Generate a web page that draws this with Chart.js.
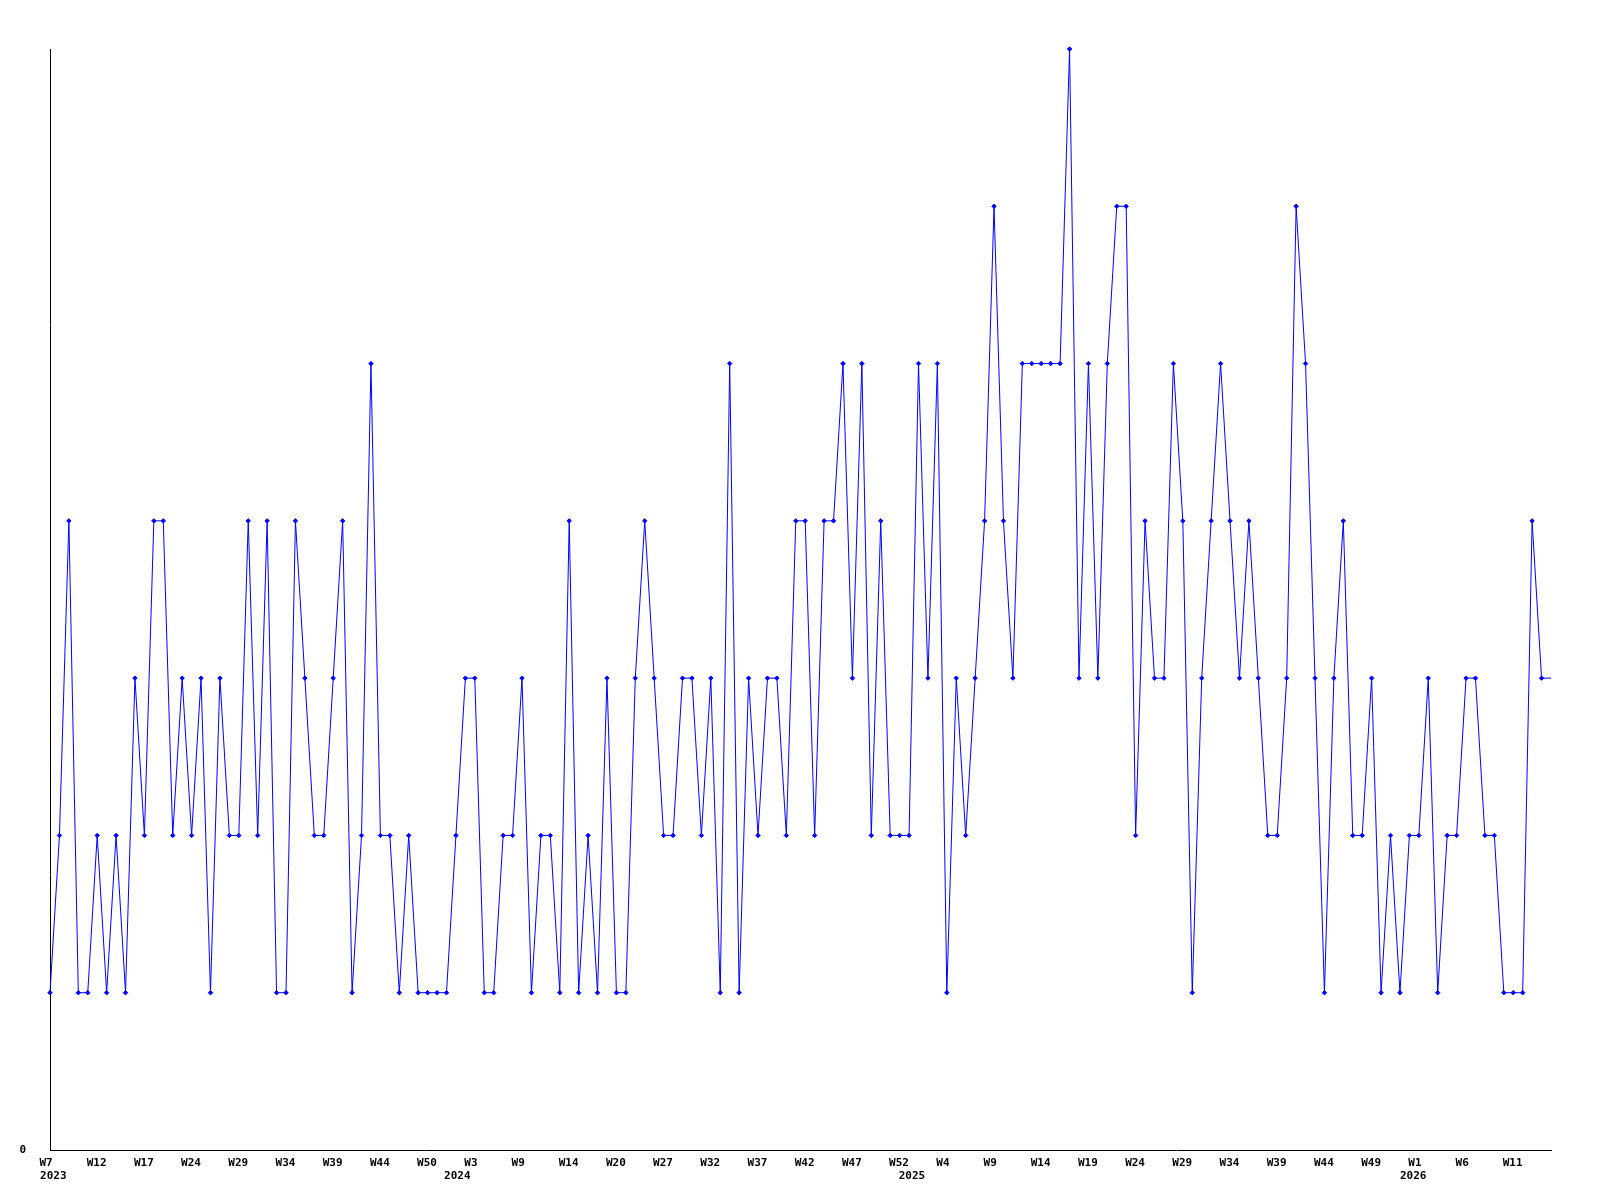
<!DOCTYPE html>
<html>
<head>
<meta charset="utf-8">
<script src="https://cdn.jsdelivr.net/npm/chart.js@4/dist/chart.umd.min.js"></script>
<style>
  html, body { margin: 0; padding: 0; background: #fff; }
  canvas { display: block; }
</style>
</head>
<body>
<canvas id="weekly" width="1600" height="1200"></canvas>
<script>
// weekly counts, one per week starting 2023 W7
const counts = [
  1,2,4,1,1,2,1,2,1,3,
  2,4,4,2,3,2,3,1,3,2,
  2,4,2,4,1,1,4,3,2,2,
  3,4,1,2,5,2,2,1,2,1,
  1,1,1,2,3,3,1,1,2,2,
  3,1,2,2,1,4,1,2,1,3,
  1,1,3,4,3,2,2,3,3,2,
  3,1,5,1,3,2,3,3,2,4,
  4,2,4,4,5,3,5,2,4,2,
  2,2,5,3,5,1,3,2,3,4,
  6,4,3,5,5,5,5,5,7,3,
  5,3,5,6,6,2,4,3,3,5,
  4,1,3,4,5,4,3,4,3,2,
  2,3,6,5,3,1,3,4,2,2,
  3,1,2,1,2,2,3,1,2,2,
  3,3,2,2,1,1,1,4,3,3
];
// labelled every 5th point
const weekTicks = ["W7","W12","W17","W24","W29","W34","W39","W44","W50","W3",
  "W9","W14","W20","W27","W32","W37","W42","W47","W52","W4",
  "W9","W14","W19","W24","W29","W34","W39","W44","W49","W1","W6","W11"];
const tickStep = 5;
const years = ["2023","2024","2025","2026"];
const yearAt = [0.35, 43.15, 91.3, 144.4]; // point index where each year starts
const yMax = 7;

const labels = counts.map((v, i) => (i % tickStep === 0 ? (weekTicks[i / tickStep] || "") : ""));
const FONT = "'DejaVu Sans Mono', monospace";

const yearPlugin = {
  id: "years",
  afterDraw(chart) {
    const x = chart.scales.x;
    const ctx = chart.ctx;
    ctx.save();
    ctx.font = "bold 11px " + FONT;
    ctx.fillStyle = "#000";
    ctx.textAlign = "center";
    ctx.textBaseline = "top";
    years.forEach((y, i) => {
      ctx.fillText(y, x.getPixelForValue(yearAt[i]), x.top + 21);
    });
    ctx.restore();
  }
};

new Chart(document.getElementById("weekly"), {
  type: "line",
  data: {
    labels: labels,
    datasets: [{
      data: counts,
      borderColor: "#0000ff",
      backgroundColor: "#0000ff",
      borderWidth: 1,
      tension: 0,
      clip: false,
      pointStyle: "rectRot",
      pointRadius: c => (c.dataIndex === counts.length - 1 ? 0 : 2.2),
      pointBorderWidth: 1
    }]
  },
  options: {
    responsive: false,
    animation: false,
    devicePixelRatio: 1,
    layout: { padding: { top: 49, right: 49, left: 0, bottom: 0 } },
    plugins: { legend: { display: false }, tooltip: { enabled: false } },
    scales: {
      x: {
        offset: false,
        grid: { display: false, drawTicks: false },
        border: { display: true, color: "#000", width: 1 },
        ticks: {
          autoSkip: false,
          maxRotation: 0,
          align: "start",
          labelOffset: -10.5,
          padding: 7,
          color: "#000",
          font: { family: FONT, size: 11, weight: "bold" }
        },
        afterFit: s => { s.height = 50; }
      },
      y: {
        min: 0,
        max: yMax,
        grid: { display: false, drawTicks: false },
        border: { display: true, color: "#000", width: 1 },
        afterBuildTicks: s => { s.ticks = [{ value: 0 }]; },
        ticks: {
          padding: 24,
          color: "#000",
          font: { family: FONT, size: 11, weight: "bold" }
        },
        afterFit: s => { s.width = 50; }
      }
    }
  },
  plugins: [yearPlugin]
});
</script>
</body>
</html>
